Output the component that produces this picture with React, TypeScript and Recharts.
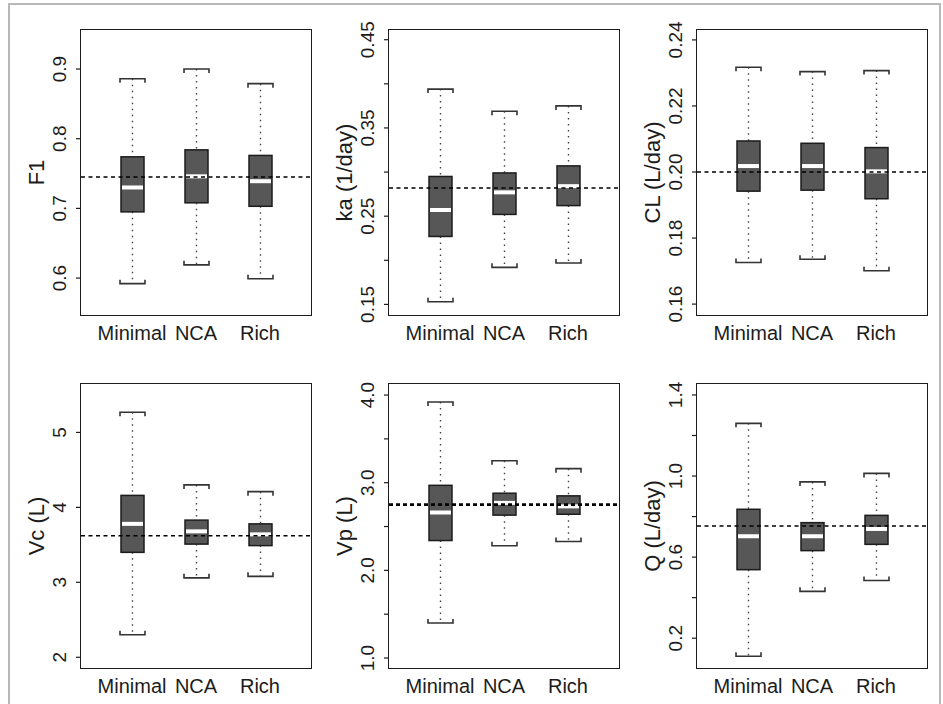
import React from "react";
import { ComposedChart, Bar, XAxis, YAxis, ReferenceLine, Label } from "recharts";

const categories = ["Minimal", "NCA", "Rich"];

// each row: [lower whisker, Q1, median, Q3, upper whisker]
const f1Stats = [
  [0.592, 0.695, 0.73, 0.774, 0.886],
  [0.619, 0.708, 0.746, 0.784, 0.9],
  [0.599, 0.703, 0.739, 0.776, 0.879],
];
const kaStats = [
  [0.153, 0.227, 0.257, 0.295, 0.394],
  [0.192, 0.252, 0.277, 0.299, 0.369],
  [0.197, 0.262, 0.284, 0.307, 0.375],
];
const clStats = [
  [0.1726, 0.1942, 0.2018, 0.2094, 0.2317],
  [0.1736, 0.1945, 0.2018, 0.2087, 0.2304],
  [0.1701, 0.1919, 0.2002, 0.2074, 0.2307],
];
const vcStats = [
  [2.3, 3.4, 3.78, 4.16, 5.27],
  [3.06, 3.51, 3.68, 3.83, 4.3],
  [3.08, 3.49, 3.64, 3.78, 4.21],
];
const vpStats = [
  [1.4, 2.34, 2.66, 2.97, 3.92],
  [2.28, 2.63, 2.77, 2.88, 3.25],
  [2.33, 2.64, 2.73, 2.85, 3.16],
];
const qStats = [
  [0.111, 0.538, 0.703, 0.836, 1.26],
  [0.431, 0.632, 0.703, 0.77, 0.971],
  [0.485, 0.663, 0.739, 0.806, 1.013],
];

const trueValues = [0.745, 0.282, 0.2, 3.62, 2.75, 0.754];
const yTitles = ["F1", "ka (1/day)", "CL (L/day)", "Vc (L)", "Vp (L)", "Q (L/day)"];
const yTicks = [
  [0.6, 0.7, 0.8, 0.9],
  [0.15, 0.2, 0.25, 0.3, 0.35, 0.4, 0.45],
  [0.16, 0.18, 0.2, 0.22, 0.24],
  [2, 3, 4, 5],
  [1, 1.5, 2, 2.5, 3, 3.5, 4],
  [0.2, 0.4, 0.6, 0.8, 1.0, 1.2, 1.4],
];
const yTickLabels = [
  ["0.6", "0.7", "0.8", "0.9"],
  ["0.15", "", "0.25", "", "0.35", "", "0.45"],
  ["0.16", "0.18", "0.20", "0.22", "0.24"],
  ["2", "3", "4", "5"],
  ["1.0", "", "2.0", "", "3.0", "", "4.0"],
  ["0.2", "", "0.6", "", "1.0", "", "1.4"],
];
const yDomains = [
  [0.547, 0.956],
  [0.138, 0.461],
  [0.1567, 0.243],
  [1.857, 5.646],
  [0.886, 4.126],
  [0.053, 1.454],
];

const allStats = [f1Stats, kaStats, clStats, vcStats, vpStats, qStats];

const FONT = "'Liberation Sans', Arial, sans-serif";
const INK = "#1c1c1c";

// draws one box + whiskers inside the ranged bar (lower whisker..upper whisker)
const BoxShape = (props: any) => {
  const { x, y, width, height, payload } = props;
  const [lo, q1, med, q3, hi] = payload.stats;
  const top = Math.min(y, y + height);
  const span = Math.abs(height);
  const py = (v: number) => top + ((hi - v) / (hi - lo)) * span;
  const cx = x + width / 2;
  const cap = 12.5;
  const tip = 4;
  return (
    <g>
      <line x1={cx} x2={cx} y1={py(hi)} y2={py(q3)} stroke="#444" strokeWidth={1.4} strokeDasharray="1.5 4.5" />
      <line x1={cx} x2={cx} y1={py(q1)} y2={py(lo)} stroke="#444" strokeWidth={1.4} strokeDasharray="1.5 4.5" />
      <path
        d={`M${cx - cap},${py(hi) + tip}V${py(hi)}H${cx + cap}V${py(hi) + tip}`}
        fill="none"
        stroke="#333"
        strokeWidth={1.6}
      />
      <path
        d={`M${cx - cap},${py(lo) - tip}V${py(lo)}H${cx + cap}V${py(lo) - tip}`}
        fill="none"
        stroke="#333"
        strokeWidth={1.6}
      />
      <rect x={x} y={py(q3)} width={width} height={py(q1) - py(q3)} fill="#575757" stroke={INK} strokeWidth={1.5} />
      <line x1={x + 1} x2={x + width - 1} y1={py(med)} y2={py(med)} stroke="#fff" strokeWidth={4} />
    </g>
  );
};

const XTick = (props: any) => {
  const { x, y, payload } = props;
  return (
    <text x={x} y={y + 23} textAnchor="middle" fontSize={20} fill={INK} fontFamily={FONT}>
      {payload.value}
    </text>
  );
};

const makeYTick = (labels: string[]) => (props: any) => {
  const { x, y, index } = props;
  const txt = labels[index];
  if (!txt) return <g />;
  const lx = x - 16;
  return (
    <text
      x={lx}
      y={y}
      transform={`rotate(-90 ${lx} ${y})`}
      textAnchor="middle"
      dominantBaseline="central"
      fontSize={19}
      fill={INK}
      fontFamily={FONT}
    >
      {txt}
    </text>
  );
};

const makeTitle = (text: string) => (props: any) => {
  const vb = props.viewBox || {};
  const cx = vb.x + vb.width - 45;
  const cy = vb.y + vb.height / 2;
  return (
    <text
      x={cx}
      y={cy}
      transform={`rotate(-90 ${cx} ${cy})`}
      textAnchor="middle"
      dominantBaseline="central"
      fontSize={22}
      fill={INK}
      fontFamily={FONT}
    >
      {text}
    </text>
  );
};

const PLOT_W = 230;

const Panel = ({ idx, left, top, marginTop, xHeight }: any) => {
  const stats = allStats[idx];
  const data = categories.map((name, i) => ({
    name,
    range: [stats[i][0], stats[i][4]],
    stats: stats[i],
  }));
  const plotH = 352 - marginTop - xHeight;
  return (
    <div style={{ position: "absolute", left, top, width: 315, height: 352 }}>
      <ComposedChart
        width={315}
        height={352}
        data={data}
        margin={{ top: marginTop, right: 4, bottom: 0, left: 0 }}
      >
        <XAxis
          dataKey="name"
          height={xHeight}
          padding={{ left: 19, right: 19 }}
          tickLine={false}
          tickSize={0}
          interval={0}
          axisLine={false}
          tick={<XTick />}
        />
        <YAxis
          type="number"
          domain={yDomains[idx]}
          ticks={yTicks[idx]}
          allowDataOverflow
          width={81}
          tickSize={5}
          tickMargin={0}
          interval={0}
          tickLine={{ stroke: INK, strokeWidth: 1.2 }}
          axisLine={false}
          tick={makeYTick(yTickLabels[idx])}
        >
          <Label content={makeTitle(yTitles[idx])} />
        </YAxis>
        <Bar dataKey="range" barSize={23} shape={<BoxShape />} isAnimationActive={false} />
        <ReferenceLine
          y={trueValues[idx]}
          stroke="#000"
          strokeDasharray={idx === 4 ? "4 3" : "4 3.5"}
          strokeWidth={idx === 4 ? 2.6 : 1.5}
        />
      </ComposedChart>
      {/* plot frame */}
      <div
        style={{
          position: "absolute",
          left: 80,
          top: marginTop - 1,
          width: PLOT_W + 2,
          height: plotH + 2,
          border: `1.6px solid ${INK}`,
          boxSizing: "border-box",
          pointerEvents: "none",
        }}
      />
    </div>
  );
};

const colLefts = [0, 308, 616];

export default function App() {
  return (
    <div
      style={{
        position: "absolute",
        left: 0,
        top: 0,
        width: 943,
        height: 704,
        overflow: "hidden",
        background: "#fff",
      }}
    >
      <div
        style={{
          position: "absolute",
          left: 8,
          top: 3,
          width: 929,
          height: 760,
          border: "2px solid #b8b8b8",
        }}
      />
      {[0, 1, 2].map((c) => (
        <Panel key={`a${c}`} idx={c} left={colLefts[c]} top={0} marginTop={30} xHeight={37} />
      ))}
      {[0, 1, 2].map((c) => (
        <Panel key={`b${c}`} idx={c + 3} left={colLefts[c]} top={352} marginTop={32} xHeight={36} />
      ))}
    </div>
  );
}
